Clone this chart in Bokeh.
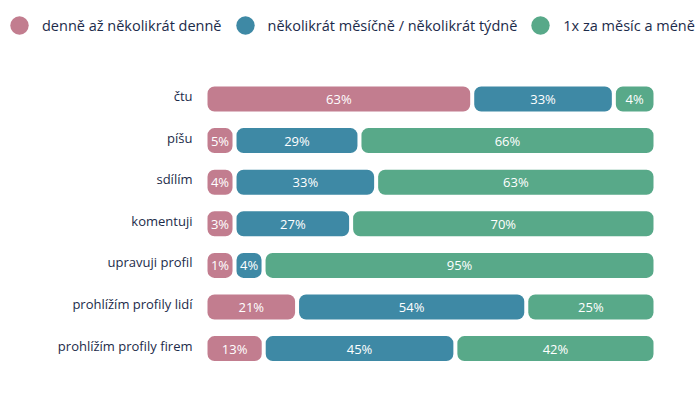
from bokeh.plotting import figure
from bokeh.models import ColumnDataSource, Range1d, Legend, LegendItem
from bokeh.embed import file_html
from bokeh.resources import INLINE
from bokeh.core.properties import value

# ---- data ----
categories = ["čtu", "píšu", "sdílím", "komentuji", "upravuji profil",
              "prohlížím profily lidí", "prohlížím profily firem"]
series = ["denně až několikrát denně", "několikrát měsíčně / několikrát týdně",
          "1x za měsíc a méně"]
daily = [63, 5, 4, 3, 1, 21, 13]
monthly_weekly = [33, 29, 33, 27, 4, 54, 45]
monthly_less = [4, 66, 63, 70, 95, 25, 42]

# ---- style / layout ----
COLORS = ["#C27D8F", "#3E89A5", "#58A989"]
TEXT_DARK = "#1C2B4A"
FONT = "Open Sans"
W, H = 700, 393
TOTAL = 106.95   # container width in % units (last segment carries padding)
GAP = 0.96       # gap between segments in % units
MIN_W = 6.0      # minimum segment width in % units
BAR_LEFT_PX, BAR_RIGHT_PX = 207, 653
ROW_TOP_PX, ROW_STEP_PX = 98.5, 41.6

u = TOTAL / (BAR_RIGHT_PX - BAR_LEFT_PX)
x_start = -BAR_LEFT_PX * u
x_end = TOTAL + (W - BAR_RIGHT_PX) * u
y_top = -ROW_TOP_PX / ROW_STEP_PX
y_bottom = (H - ROW_TOP_PX) / ROW_STEP_PX

rows = list(range(len(categories)))

left = [[], [], []]
right = [[], [], []]
for p_, b_, g_ in zip(daily, monthly_weekly, monthly_less):
    wp = max(p_, MIN_W)
    wb = max(b_, MIN_W)
    left[0].append(0.0); right[0].append(wp)
    left[1].append(wp + GAP); right[1].append(wp + GAP + wb)
    left[2].append(wp + wb + 2 * GAP); right[2].append(TOTAL)

vals = [daily, monthly_weekly, monthly_less]

p = figure(width=W, height=H, output_backend="svg", toolbar_location=None,
           x_range=Range1d(x_start, x_end), y_range=Range1d(y_bottom, y_top),
           min_border=0)
p.outline_line_color = None
p.grid.grid_line_color = None
p.axis.visible = False

# category labels
cat_src = ColumnDataSource(dict(y=rows, x=[0.0] * len(rows), cat=categories))
p.text(x="x", y="y", text="cat", source=cat_src, text_align="right",
       text_baseline="middle", x_offset=-15, y_offset=-3,
       text_color=TEXT_DARK, text_font=value(FONT), text_font_size="13px")

legend_items = []
for i in range(3):
    src = ColumnDataSource(dict(
        y=rows, left=left[i], right=right[i],
        mid=[(l + r) / 2 for l, r in zip(left[i], right[i])],
        lab=[f"{v}%" for v in vals[i]],
    ))
    p.hbar(y="y", left="left", right="right", height=0.6, source=src,
           fill_color=COLORS[i], line_color=None, border_radius=7)
    p.text(x="mid", y="y", text="lab", source=src, text_align="center",
           text_baseline="middle", text_color="white",
           text_font=value(FONT), text_font_size="13px")
    dummy = p.scatter(x=[float("nan")], y=[float("nan")], size=18,
                      marker="circle", fill_color=COLORS[i], line_color=None)
    legend_items.append(LegendItem(label=series[i], renderers=[dummy]))

legend = Legend(items=legend_items, orientation="horizontal",
                location=(-4, H - 48), glyph_width=46, glyph_height=46,
                label_standoff=-3, spacing=0, padding=0, margin=0,
                border_line_color=None, background_fill_alpha=0,
                label_text_font=FONT, label_text_font_size="14.5px",
                label_text_color=TEXT_DARK)
p.add_layout(legend, "center")

open("out.html", "w").write(file_html(p, INLINE))
